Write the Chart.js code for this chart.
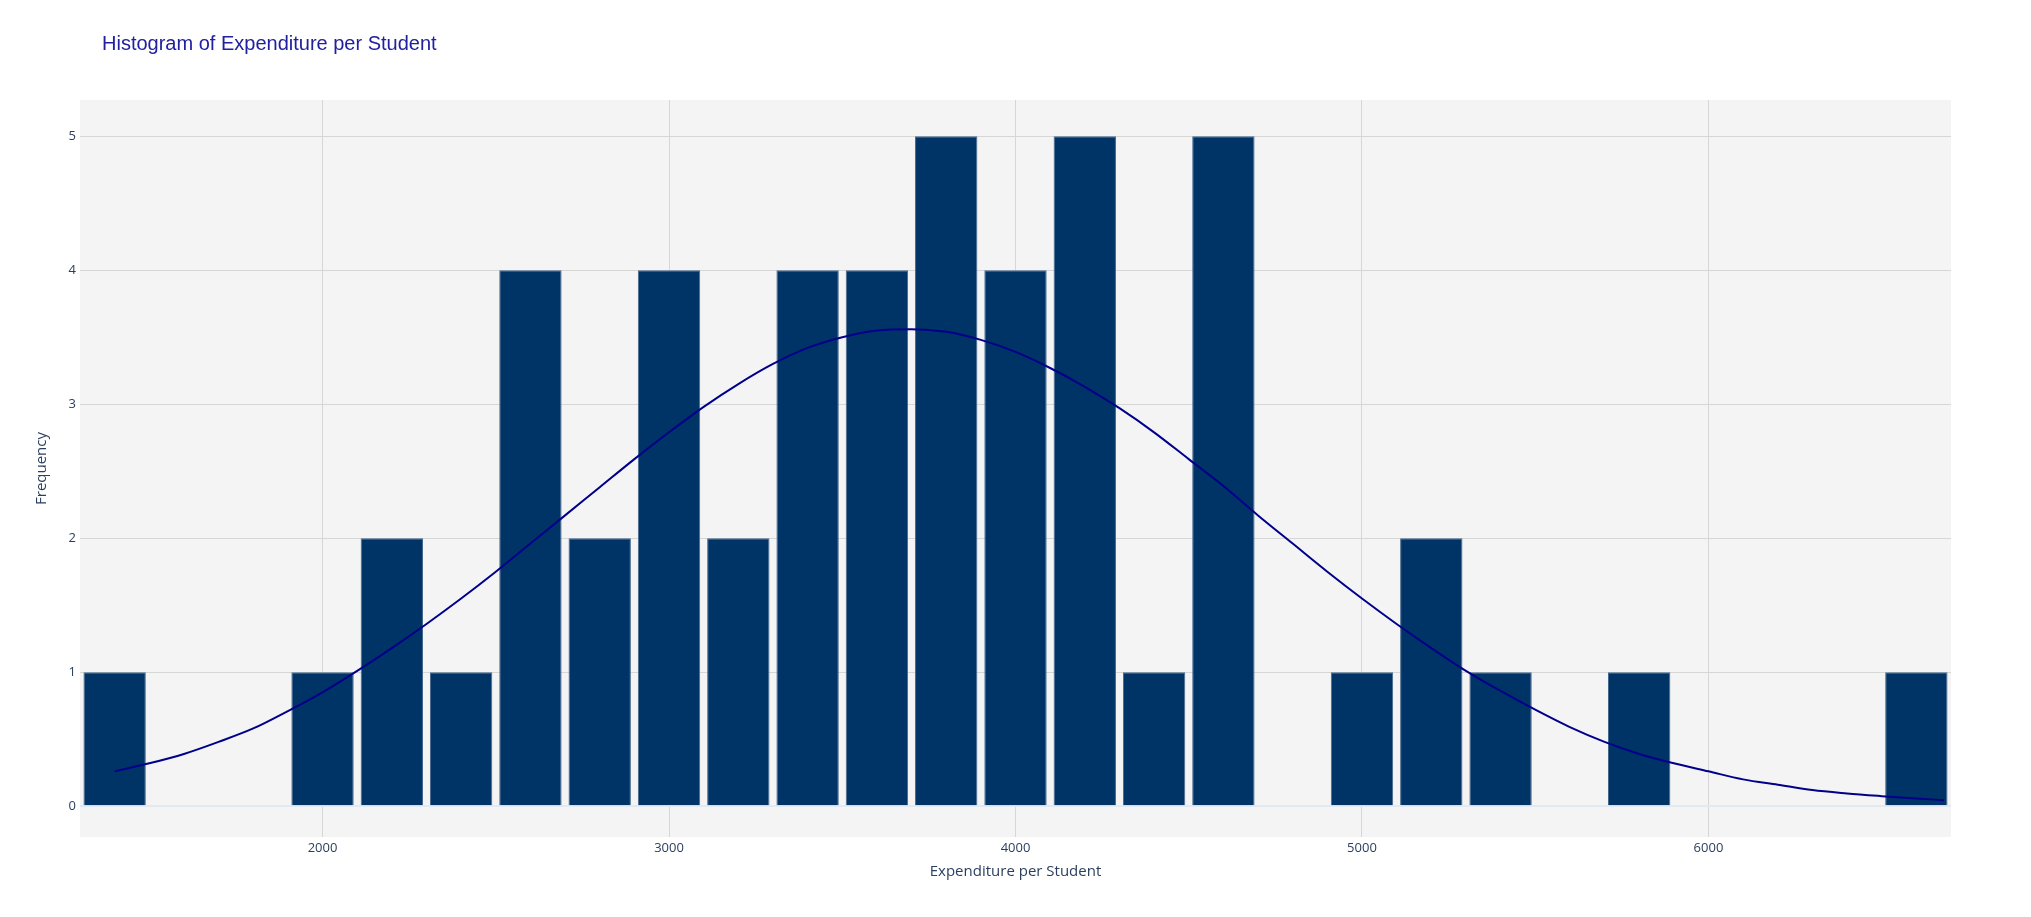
<!DOCTYPE html>
<html>
<head>
<meta charset="utf-8">
<title>Histogram of Expenditure per Student</title>
<script src="https://cdn.jsdelivr.net/npm/chart.js@4.4.1/dist/chart.umd.min.js"></script>
<style>
  html, body { margin: 0; padding: 0; background: #ffffff; }
  #wrap { width: 2031px; height: 917px; position: relative; }
</style>
</head>
<body>
<div id="wrap"><canvas id="chart"></canvas></div>
<script>
// histogram bins (bin centres, width 200)
const binCenters = [1400, 1600, 1800, 2000, 2200, 2400, 2600, 2800, 3000, 3200, 3400, 3600, 3800, 4000,
  4200, 4400, 4600, 4800, 5000, 5200, 5400, 5600, 5800, 6000, 6200, 6400, 6600];
const counts = [1, 0, 0, 1, 2, 1, 4, 2, 4, 2, 4, 4, 5, 4, 5, 1, 5, 0, 1, 2, 1, 0, 1, 0, 0, 0, 1];

// fitted curve
const curveX = [1400, 1500, 1600, 1700, 1800, 1900, 2000, 2100, 2200, 2300, 2400, 2500, 2600, 2700,
  2800, 2900, 3000, 3100, 3200, 3300, 3400, 3500, 3600, 3700, 3800, 3900, 4000, 4100, 4200, 4300,
  4400, 4500, 4600, 4700, 4800, 4900, 5000, 5100, 5200, 5300, 5400, 5500, 5600, 5700, 5800, 5900,
  6000, 6100, 6200, 6300, 6400, 6500, 6600, 6680];
const curveY = [0.26, 0.32, 0.39, 0.48, 0.58, 0.71, 0.85, 1.01, 1.18, 1.36, 1.55, 1.75, 1.96, 2.17,
  2.38, 2.59, 2.79, 2.98, 3.15, 3.30, 3.42, 3.50, 3.55, 3.56, 3.54, 3.48, 3.39, 3.27, 3.13, 2.97,
  2.79, 2.59, 2.39, 2.17, 1.96, 1.75, 1.55, 1.36, 1.18, 1.01, 0.86, 0.72, 0.59, 0.48, 0.39, 0.32,
  0.26, 0.20, 0.16, 0.12, 0.095, 0.075, 0.057, 0.045];

const xTicks = [2000, 3000, 4000, 5000, 6000];
const yTicks = [0, 1, 2, 3, 4, 5];

const axisColor = '#2a3f5f';
const gridColor = '#d6d6d6';

// grey plot background + title
const plotBg = {
  id: 'plotBg',
  beforeDraw(chart) {
    const { ctx, chartArea: a } = chart;
    ctx.save();
    ctx.fillStyle = '#f4f4f4';
    ctx.fillRect(a.left, a.top, a.right - a.left, a.bottom - a.top);
    ctx.restore();
  },
  afterDraw(chart) {
    const ctx = chart.ctx;
    ctx.save();
    ctx.font = '20px "Liberation Sans", Arial, sans-serif';
    ctx.fillStyle = '#2020a0';
    ctx.textBaseline = 'alphabetic';
    ctx.fillText('Histogram of Expenditure per Student', 102, 50);
    ctx.restore();
  }
};

new Chart(document.getElementById('chart'), {
  type: 'bar',
  data: {
    datasets: [
      {
        type: 'line',
        label: 'Normal curve',
        data: curveX.map((x, i) => ({ x: x, y: curveY[i] })),
        borderColor: '#00008b',
        borderWidth: 2,
        pointRadius: 0,
        cubicInterpolationMode: 'monotone',
        fill: false,
        order: 0
      },
      {
        label: 'Frequency',
        data: binCenters.map((x, i) => ({ x: x, y: counts[i] })),
        backgroundColor: '#003366',
        borderColor: '#46698f',
        borderWidth: ctx => (ctx.raw && ctx.raw.y > 0 ? 1 : 0),
        borderSkipped: 'bottom',
        barPercentage: 0.9,
        categoryPercentage: 1.0,
        order: 1
      }
    ]
  },
  options: {
    responsive: true,
    maintainAspectRatio: false,
    animation: false,
    layout: { padding: { top: 100, right: 80, left: 0, bottom: 0 } },
    plugins: {
      legend: { display: false },
      tooltip: { enabled: false }
    },
    scales: {
      x: {
        type: 'linear',
        min: 1300,
        max: 6700,
        offset: false,
        afterBuildTicks: s => { s.ticks = xTicks.map(v => ({ value: v })); },
        afterFit: s => { s.height = 80; },
        border: { display: false },
        grid: { color: gridColor, lineWidth: 1, drawTicks: false, offset: false },
        ticks: {
          padding: 3,
          color: axisColor,
          font: { family: '"Open Sans", sans-serif', size: 13 },
          maxRotation: 0,
          callback: v => String(v)
        },
        title: {
          display: true,
          text: 'Expenditure per Student',
          color: axisColor,
          font: { family: '"Open Sans", sans-serif', size: 15 },
          padding: { top: 0, bottom: 36 }
        }
      },
      y: {
        min: -0.23,
        max: 5.27,
        afterBuildTicks: s => { s.ticks = yTicks.map(v => ({ value: v })); },
        afterFit: s => { s.width = 80; },
        border: { display: false },
        grid: {
          color: ctx => (ctx.tick && ctx.tick.value === 0 ? '#e3e9f3' : gridColor),
          lineWidth: ctx => (ctx.tick && ctx.tick.value === 0 ? 2 : 1),
          drawTicks: false
        },
        ticks: {
          padding: 4,
          color: axisColor,
          font: { family: '"Open Sans", sans-serif', size: 13 },
          callback: v => String(v)
        },
        title: {
          display: true,
          text: 'Frequency',
          color: axisColor,
          font: { family: '"Open Sans", sans-serif', size: 15 },
          padding: { top: 33, bottom: 0 }
        }
      }
    }
  },
  plugins: [plotBg]
});
</script>
</body>
</html>
